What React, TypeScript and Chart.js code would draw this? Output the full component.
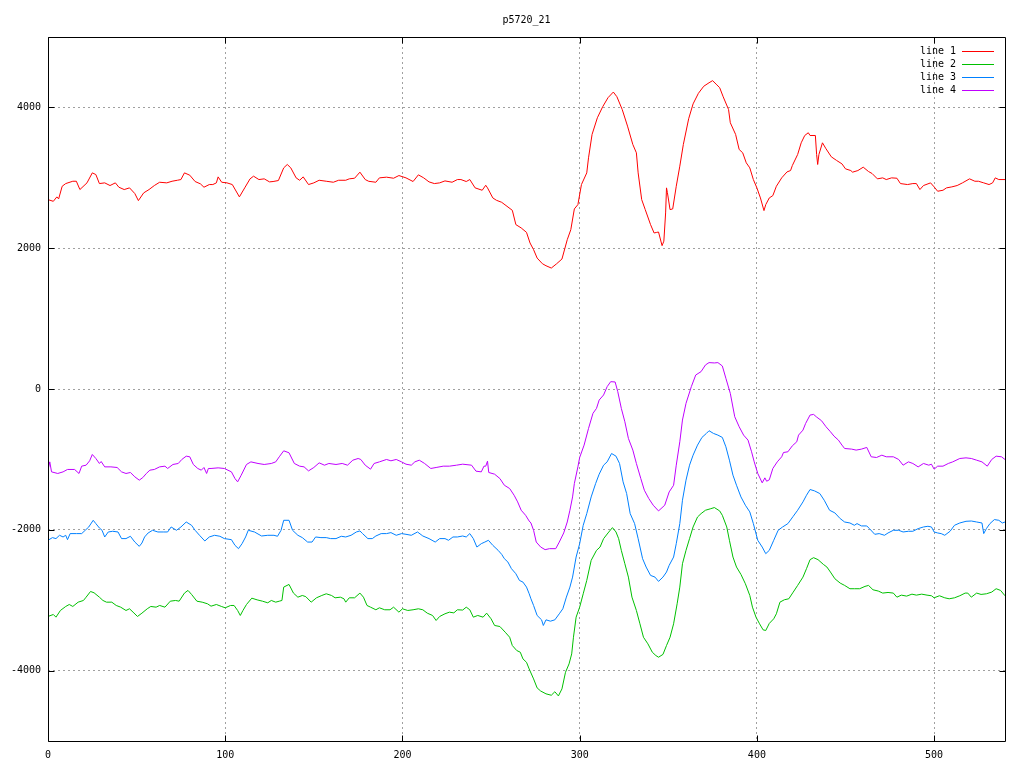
import { useEffect, useRef } from "react";
import { Chart, registerables } from "chart.js";

Chart.register(...registerables);

const TITLE = "p5720_21";
const SERIES_LABELS = ["line 1", "line 2", "line 3", "line 4"];
const SERIES_COLORS = ["#ff0000", "#00c000", "#0080ff", "#c000ff"];
const X_TICKS = [0, 100, 200, 300, 400, 500];
const Y_TICKS = [-4000, -2000, 0, 2000, 4000];
const X_MIN = 0;
const X_MAX = 540;
const Y_MIN = -5000;
const Y_MAX = 5000;

const LINE1_X = [0,3,5,6,8,10,14,16,18,22,25,27,29,32,35,38,40,43,46,49,51,54,57,60,63,67,70,73,75,77,80,83,86,88,91,93,95,96,98,101,104,108,111,114,116,119,122,125,127,130,133,135,137,140,142,144,147,150,153,157,161,164,168,170,173,176,179,181,185,187,191,195,198,202,206,209,212,215,218,221,224,228,231,233,236,238,241,245,247,248,251,253,256,259,262,264,267,270,272,274,276,279,281,284,287,290,293,295,297,299,301,304,305,307,310,313,316,319,321,324,327,330,332,333,335,337,340,342,343.5,344.5,346.5,347.5,348.5,349,349.5,351,352.5,354.5,356.5,358.5,361.5,364,367,370,373,375,377,379,381,384,385,388,390,392,394,396,398,400,402,404,405,407,409,411,414,417,419,420,423,425,427,429,430,433,433.7,434.3,435,437,439,442,445,448,450,453,454,457,460,463,465,468,471,473,476,479,481,485,488,490,492,494,498,500,502,505,507,510,513,516,520,523,525,528,531,533,534.5,536.5,540];
const LINE1_Y = [2690,2666,2729,2700,2880,2918,2951,2951,2833,2928,3070,3046,2918,2928,2890,2928,2866,2833,2857,2776,2676,2786,2833,2890,2937,2928,2951,2965,2975,3070,3037,2947,2914,2866,2904,2904,2928,3013,2937,2928,2904,2729,2857,2985,3023,2975,2985,2942,2947,2961,3141,3189,3141,2999,2965,3013,2904,2928,2965,2951,2937,2965,2965,2985,2994,3080,2975,2950,2937,2999,3009,2994,3032,2999,2947,3042,2999,2942,2918,2928,2956,2937,2975,2975,2947,2975,2857,2823,2894,2857,2714,2681,2652,2595,2538,2335,2288,2225,2074,1979,1860,1779,1751,1718,1779,1846,2121,2263,2558,2619,2904,3070,3284,3616,3853,4010,4138,4218,4152,3971,3734,3473,3355,3070,2690,2548,2335,2216,2225,2230,2036,2100,2501,2857,2790,2548,2558,2880,3165,3473,3839,4050,4200,4300,4350,4380,4330,4280,4150,3971,3782,3616,3402,3355,3213,3141,2975,2857,2714,2534,2619,2714,2747,2880,2999,3084,3103,3174,3331,3497,3601,3640,3601,3601,3331,3189,3331,3497,3412,3298,3246,3198,3127,3103,3080,3103,3151,3089,3061,2985,2999,2975,2999,2994,2918,2904,2918,2918,2833,2890,2928,2871,2809,2823,2857,2871,2890,2928,2985,2951,2951,2928,2904,2928,2999,2975,2975];

const LINE2_X = [0,3,4.5,7,10,12,14,17,20,21.5,24,26,29,31,33,36,38.5,41,44,46,48,50.5,53,56,58,61,63,66,69,72,74,77,79,81,84,87,90,92,95,98,100,103,105,107,108.5,110,112,115,118,121,124,126,128.5,130.5,132,133,136,138.5,141,143.5,145.5,148.5,151.5,154.5,157,160,162,165,167,168,170,173,176,178,180,182,185,187,190,193,195,198,200,203,206,209,211.5,214,217,219,221,224,226.5,229,231,234,236,238,240,242.5,245.5,247.5,250,252,255,258,260.5,262,264.5,266.5,268,270,271.5,274,276,278,281,284,286,288,290,292,294,295.5,296.5,298,300,302,304,306.5,309.5,311.5,313.5,316,318.5,320.5,322,323.5,325.5,327.5,329.5,332,334,336,338.5,341,343,344.5,347,349,351,353,355,356.5,358,360,362,364,366.5,368.5,371,374,376,379,380.5,383,384.5,386.5,388.5,391,393.5,396,397.5,399.5,401.5,403.5,405,407,409.5,411,413,415.5,418,420.5,423,426,428,430,432,434.5,437.5,439.5,441.5,444,447,449.5,452.5,455,458,461,463,465.5,468.5,471,474,477,479,481.5,484.5,487.5,490,493,496,498.5,500,503,506,508.5,511.5,514.5,517.5,519,521,524,526.5,529.5,532.5,535,537.5,540];
const LINE2_Y = [-3231,-3203,-3241,-3146,-3089,-3061,-3089,-3028,-3004,-2957,-2876,-2895,-2957,-3004,-3028,-3028,-3075,-3099,-3146,-3122,-3170,-3231,-3184,-3122,-3089,-3099,-3075,-3099,-3014,-3004,-3014,-2899,-2861,-2918,-3014,-3028,-3051,-3085,-3061,-3090,-3108,-3075,-3075,-3146,-3217,-3146,-3061,-2971,-2995,-3014,-3037,-3004,-3028,-3014,-3004,-2814,-2776,-2899,-2957,-2933,-2950,-3028,-2966,-2933,-2909,-2933,-2966,-2957,-2980,-3028,-2966,-2966,-2899,-2957,-3075,-3099,-3136,-3108,-3136,-3136,-3099,-3170,-3122,-3146,-3136,-3122,-3136,-3184,-3217,-3288,-3231,-3193,-3170,-3180,-3136,-3140,-3099,-3136,-3241,-3217,-3241,-3184,-3264,-3359,-3374,-3455,-3526,-3644,-3715,-3739,-3834,-3882,-3976,-4118,-4246,-4290,-4330,-4350,-4300,-4360,-4260,-4024,-3905,-3763,-3526,-3241,-3099,-2909,-2719,-2434,-2292,-2245,-2126,-2045,-1969,-2031,-2126,-2292,-2482,-2672,-2956,-3146,-3335,-3526,-3620,-3739,-3786,-3810,-3770,-3644,-3526,-3335,-3051,-2814,-2482,-2292,-2126,-1960,-1818,-1770,-1722,-1700,-1684,-1732,-1794,-1960,-2149,-2387,-2529,-2634,-2766,-2933,-3099,-3241,-3335,-3421,-3430,-3330,-3264,-3193,-3028,-2994,-2980,-2885,-2790,-2672,-2552,-2424,-2396,-2424,-2491,-2529,-2600,-2695,-2757,-2790,-2837,-2837,-2837,-2804,-2790,-2852,-2870,-2899,-2890,-2899,-2957,-2928,-2942,-2914,-2928,-2914,-2928,-2937,-2966,-2937,-2966,-2980,-2966,-2937,-2899,-2899,-2957,-2899,-2918,-2909,-2885,-2837,-2861,-2937];

const LINE3_X = [0,2.5,4.5,6.5,8.5,10,11,12.5,16,19,21,23,25.5,27,29,30.5,32,34,36.5,39.5,41.5,44,46.5,49,51.5,53,54.5,56.5,59,62,65,67.5,69.5,72.5,75,78,81,83,85.5,88.5,91,94,97,99.5,103.5,105.5,107.5,109.5,111.5,113,116.5,120.5,124,127.5,129.5,131.5,133,136,138,141,143.5,146.5,149,151,154,157,159.5,162.5,165.5,168,171,174,176,177.5,180.5,183,185,188,191,193.5,196.5,199.5,202,205,208.5,211.5,215,218.5,221,224,226,228.5,231,234,236,238,240,242,244.5,246.5,248.5,251,254,256,257.5,259.5,261.5,264,266,268,270,271.5,272.5,274,276,278.5,279.5,281,283.5,286,288.5,290.5,292.5,294.5,296,298,300,302,304,306.5,309,311,313.5,315.5,318,320.5,322.5,324.5,326.5,328.5,331,333,335.5,337.5,340,342.5,344.5,347,349,350.5,353,354.5,356.5,358,360,362,364,366.5,369,371.5,373,375.5,378,380.5,382.5,384.5,386.5,388.5,391,393.5,396,398,400.5,403,405,407,409.5,412,414.5,417.5,420.5,423,426,428,430,432.5,435.5,438,441,444,447,449.5,452.5,455,456.5,459,462,463.5,466.5,469,472,474,477,480,482.5,485.5,488,491,494,496.5,498.5,500,502,504,506,509,511.5,514.5,518,521,524,527,528,529.5,531.5,534,536.5,538.5,540];
const LINE3_Y = [-2149,-2111,-2125,-2078,-2102,-2078,-2140,-2054,-2054,-2054,-2007,-1960,-1865,-1912,-1974,-2007,-2102,-2031,-2021,-2031,-2125,-2125,-2092,-2174,-2235,-2188,-2102,-2045,-2007,-2031,-2031,-2031,-1960,-2007,-1960,-1889,-1936,-2007,-2078,-2159,-2102,-2078,-2092,-2125,-2140,-2221,-2268,-2197,-2102,-2007,-2031,-2088,-2078,-2078,-2092,-2007,-1865,-1865,-2007,-2078,-2111,-2174,-2174,-2102,-2111,-2111,-2125,-2125,-2092,-2102,-2078,-2031,-2016,-2054,-2125,-2125,-2088,-2054,-2054,-2040,-2078,-2054,-2064,-2078,-2031,-2088,-2125,-2174,-2125,-2125,-2149,-2102,-2102,-2088,-2102,-2054,-2125,-2245,-2197,-2174,-2149,-2221,-2292,-2349,-2410,-2458,-2552,-2624,-2719,-2743,-2814,-2908,-2980,-3075,-3217,-3279,-3359,-3279,-3298,-3279,-3193,-3122,-2956,-2814,-2672,-2387,-2197,-1936,-1770,-1533,-1343,-1210,-1082,-1035,-916,-954,-1058,-1319,-1485,-1770,-1912,-2126,-2410,-2529,-2648,-2672,-2733,-2672,-2600,-2505,-2387,-2197,-1912,-1580,-1295,-1082,-940,-797,-688,-631,-593,-631,-655,-688,-821,-1011,-1224,-1367,-1533,-1651,-1746,-1912,-2149,-2245,-2339,-2292,-2149,-2007,-1960,-1912,-1808,-1722,-1604,-1509,-1428,-1447,-1485,-1580,-1722,-1760,-1841,-1889,-1903,-1936,-1912,-1945,-1945,-1983,-2064,-2054,-2078,-2045,-2007,-2007,-2031,-2021,-2021,-1983,-1960,-1950,-1960,-2031,-2045,-2054,-2078,-2021,-1936,-1903,-1879,-1875,-1889,-1903,-2054,-1983,-1912,-1855,-1865,-1903,-1889];

const LINE4_X = [0,1,2,5.5,8.5,11,15,17.5,19,21.5,23.5,25,27,29,30,32,35.5,39,41.5,44,46.5,49,51.5,53.5,55.5,57.5,60,63,66,67.5,70.5,73.5,75.5,78,80,82,84.5,86.5,88,89.5,90.5,92,96,99.5,103.5,105.5,107,109,112,114.5,118.5,122,126,128.5,130.5,133,136,139,142,144.5,147,150,153,156,158.5,162.5,166,169,172,175,176.5,179,182,184,187,191,193.5,196.5,199.5,202,205,207,209.5,212.5,216,219,223,226.5,230.5,234,239,241.5,244.5,246,247,248,248.7,252,255,257.5,260.5,263,265,267,269.5,271.5,272.5,274,275.5,278,280.5,283,286.5,288.5,291,293,294.5,296,297,299,300,302.5,305,307.5,309.5,311,313.5,315.5,317.5,320,321.5,323.5,325.5,327.5,330,332,334.5,336.5,339,341.5,344.5,348,350.5,353,354.5,356.5,358,360,363,365.5,368.5,371,373,376,378,380.5,382.5,385,387.5,390,392.5,395,397,398.5,400.5,403,404.5,405.5,407,409,411.5,414,415,417.5,420,422.5,423.5,426,427.5,430,432,433.5,436.5,439,441.5,443.5,446,448,449.5,453.5,456,459,462,464.5,467.5,470.5,473,477,480,482.5,485.5,488,491,494,497,498.5,500,502,505,508,510.5,514.5,518,521,524,527,530,532.5,535,538,540];
const LINE4_Y = [-1153,-1035,-1177,-1200,-1177,-1143,-1143,-1200,-1096,-1082,-1020,-930,-987,-1058,-1030,-1106,-1106,-1115,-1177,-1200,-1186,-1248,-1295,-1258,-1200,-1153,-1143,-1106,-1096,-1129,-1072,-1058,-1001,-954,-963,-1072,-1129,-1153,-1115,-1200,-1129,-1129,-1120,-1129,-1177,-1272,-1319,-1225,-1072,-1035,-1058,-1072,-1058,-1035,-963,-878,-906,-1058,-1096,-1106,-1163,-1115,-1049,-1082,-1058,-1072,-1058,-1082,-1011,-987,-1001,-1082,-1139,-1058,-1035,-1001,-1020,-1001,-1035,-1068,-1082,-1035,-1011,-1058,-1129,-1115,-1096,-1096,-1082,-1068,-1082,-1167,-1177,-1096,-1096,-1025,-1186,-1210,-1272,-1367,-1414,-1509,-1604,-1722,-1794,-1875,-1903,-2007,-2174,-2245,-2282,-2268,-2268,-2174,-2045,-1889,-1722,-1533,-1343,-1106,-973,-797,-560,-346,-275,-157,-85,33,104,100,-38,-275,-465,-702,-868,-1058,-1272,-1438,-1556,-1651,-1732,-1651,-1462,-1367,-1082,-750,-441,-204,33,199,247,342,375,370,375,327,152,-62,-394,-536,-655,-726,-892,-1035,-1200,-1333,-1262,-1310,-1290,-1129,-1035,-963,-902,-892,-807,-750,-655,-584,-489,-370,-361,-394,-451,-536,-607,-669,-726,-797,-845,-854,-868,-854,-830,-963,-973,-940,-963,-963,-1001,-1082,-1035,-1058,-1106,-1058,-1082,-1068,-1139,-1096,-1096,-1058,-1035,-987,-978,-987,-1011,-1035,-1096,-1001,-954,-963,-1001];

const SERIES_X = [LINE1_X, LINE2_X, LINE3_X, LINE4_X];
const SERIES_Y = [LINE1_Y, LINE2_Y, LINE3_Y, LINE4_Y];

const FONT_FAMILY = "'DejaVu Sans Mono', 'Liberation Mono', monospace";

const gnuplotFrame = {
  id: "gnuplotFrame",
  afterDatasetsDraw(chart: any) {
    const { ctx, chartArea: a, scales } = chart;
    const L = Math.round(a.left) + 0.5;
    const R = Math.round(a.right) + 0.5;
    const T = Math.round(a.top) + 0.5;
    const B = Math.round(a.bottom) + 0.5;
    ctx.save();
    ctx.strokeStyle = "#000";
    ctx.lineWidth = 1;
    ctx.setLineDash([]);
    ctx.beginPath();
    ctx.rect(L, T, R - L, B - T);
    for (const v of X_TICKS) {
      const px = Math.round(scales.x.getPixelForValue(v)) + 0.5;
      ctx.moveTo(px, B);
      ctx.lineTo(px, B - 6);
      ctx.moveTo(px, T);
      ctx.lineTo(px, T + 6);
    }
    for (const v of Y_TICKS) {
      const py = Math.round(scales.y.getPixelForValue(v)) + 0.5;
      ctx.moveTo(L, py);
      ctx.lineTo(L + 6, py);
      ctx.moveTo(R, py);
      ctx.lineTo(R - 6, py);
    }
    ctx.stroke();

    ctx.fillStyle = "#000";
    ctx.font = `10px ${FONT_FAMILY}`;
    ctx.textAlign = "center";
    ctx.textBaseline = "middle";
    ctx.fillText(TITLE, (a.left + a.right) / 2, 20);

    ctx.textAlign = "right";
    SERIES_LABELS.forEach((label, i) => {
      const y = Math.round(a.top) + 14.5 + 13 * i;
      ctx.fillStyle = "#000";
      ctx.fillText(label, a.right - 49, y);
      ctx.strokeStyle = SERIES_COLORS[i];
      ctx.lineWidth = 1;
      ctx.beginPath();
      ctx.moveTo(a.right - 43, y);
      ctx.lineTo(a.right - 11, y);
      ctx.stroke();
    });
    ctx.restore();
  },
};

export default function App() {
  const canvasRef = useRef<HTMLCanvasElement | null>(null);

  useEffect(() => {
    const canvas = canvasRef.current;
    if (!canvas) return;
    const datasets = SERIES_LABELS.map((label, i) => ({
      label,
      data: SERIES_X[i].map((x, j) => ({ x, y: SERIES_Y[i][j] })),
      borderColor: SERIES_COLORS[i],
      backgroundColor: SERIES_COLORS[i],
      borderWidth: 1,
      pointRadius: 0,
      pointHoverRadius: 0,
      fill: false,
      tension: 0,
    }));
    const gridOpts = { color: "#a0a0a0", lineWidth: 1, drawTicks: false };
    const chart = new Chart(canvas, {
      type: "line",
      data: { datasets },
      options: {
        animation: false,
        responsive: false,
        devicePixelRatio: 1,
        events: [],
        layout: { autoPadding: false, padding: { left: 0, right: 19, top: 37, bottom: 0 } },
        plugins: {
          legend: { display: false },
          title: { display: false },
          tooltip: { enabled: false },
        },
        scales: {
          x: {
            type: "linear",
            min: X_MIN,
            max: X_MAX,
            grid: gridOpts,
            border: { display: false, dash: [2, 3] },
            afterBuildTicks: (scale: any) => {
              scale.ticks = X_TICKS.map((v) => ({ value: v }));
            },
            afterFit: (scale: any) => {
              scale.height = 27;
            },
            ticks: {
              autoSkip: false,
              maxRotation: 0,
              padding: 8,
              color: "#000",
              font: { family: FONT_FAMILY, size: 10 },
              callback: (v: any) => String(v),
            },
          },
          y: {
            type: "linear",
            min: Y_MIN,
            max: Y_MAX,
            grid: gridOpts,
            border: { display: false, dash: [2, 3] },
            afterBuildTicks: (scale: any) => {
              scale.ticks = Y_TICKS.map((v) => ({ value: v }));
            },
            afterFit: (scale: any) => {
              scale.width = 48;
            },
            ticks: {
              autoSkip: false,
              padding: 7,
              color: "#000",
              font: { family: FONT_FAMILY, size: 10 },
              callback: (v: any) => String(v),
            },
          },
        },
      },
      plugins: [gnuplotFrame],
    } as any);
    return () => chart.destroy();
  }, []);

  return (
    <div style={{ position: "absolute", left: 0, top: 0, width: 1024, height: 768, background: "#fff" }}>
      <canvas ref={canvasRef} width={1024} height={768} style={{ display: "block", width: 1024, height: 768 }} />
    </div>
  );
}
